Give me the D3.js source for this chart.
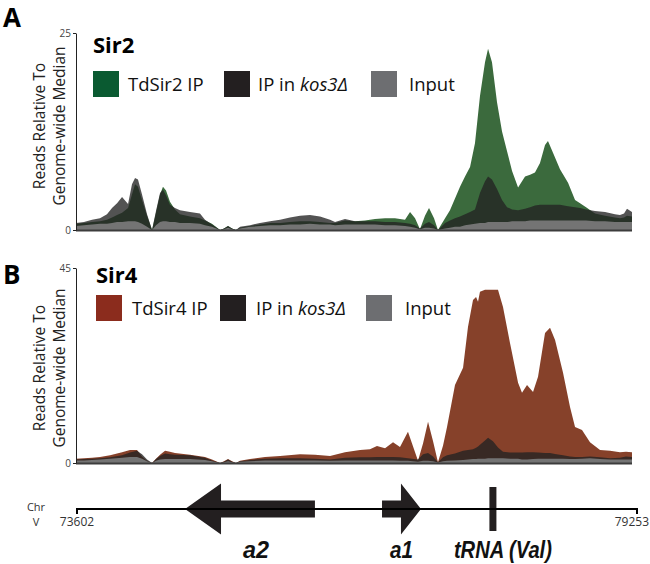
<!DOCTYPE html>
<html><head><meta charset="utf-8">
<script src="https://cdn.jsdelivr.net/npm/d3@7"></script>
<style>body{margin:0;background:#fff}svg{display:block}</style>
</head><body>
<svg id="c" width="650" height="564"></svg>
<script>
// ---------- DATA ----------
const regionStart = 73602, regionEnd = 79253;

const sir2Pos = [73602,73683,73765,73846,73917,73968,74019,74070,74131,74171,74202,74232,74273,74324,74375,74415,74456,74486,74517,74557,74608,74659,74761,74862,74913,74984,75066,75106,75147,75188,75228,75269,75371,75472,75574,75676,75777,75879,75980,76082,76184,76235,76336,76438,76539,76641,76743,76844,76946,76997,77048,77098,77149,77190,77241,77281,77353,77403,77454,77505,77556,77607,77657,77708,77759,77790,77830,77881,77932,77983,78034,78095,78166,78217,78267,78318,78369,78399,78450,78521,78603,78674,78725,78786,78877,78979,79080,79131,79172,79202,79253];
const sir2IP    = [0.8,0.9,1.0,1.1,1.3,1.6,1.9,2.2,2.8,4.5,5.8,5.5,3.8,1.8,0.0,2.2,4.5,5.5,5.0,3.6,2.6,2.0,1.7,1.5,1.2,0.8,0.0,0.2,0.5,0.2,0.0,0.3,0.5,0.7,0.9,0.9,1.0,1.1,1.1,1.0,0.9,0.9,1.2,1.1,1.2,1.4,1.5,1.5,1.3,2.3,1.5,0.1,1.8,2.8,1.5,0.0,1.5,2.5,4.0,5.5,6.8,8.0,11.0,17.0,21.3,23.0,21.3,16.2,12.5,10.0,7.5,5.4,6.8,7.0,7.3,8.5,10.8,11.3,9.8,7.7,6.0,3.8,3.4,2.9,2.1,1.8,1.6,1.5,1.6,1.8,1.7];
const sir2Kos   = [0.9,1.0,1.3,1.5,2.0,2.8,3.4,4.2,3.3,5.8,6.6,6.4,4.5,2.0,0.0,2.4,4.7,5.1,4.4,3.2,2.8,2.5,2.3,2.1,1.3,0.7,0.0,0.2,0.5,0.2,0.0,0.4,0.6,0.9,1.1,1.3,1.6,1.8,1.9,1.7,1.3,1.0,1.4,1.1,1.1,1.1,1.0,1.0,0.9,0.8,0.6,0.2,0.8,1.0,0.6,0.0,0.9,1.2,1.5,1.7,2.0,2.3,2.6,4.7,6.2,6.8,6.4,5.2,3.8,2.9,2.6,2.5,2.7,2.9,3.1,3.2,3.2,3.2,3.2,3.2,3.0,2.9,2.8,2.6,2.4,2.3,2.0,1.9,2.1,2.7,2.3];
const sir2Input = [0.5,0.6,0.7,0.8,0.8,0.9,1.0,1.0,1.1,1.1,1.1,1.0,0.8,0.4,0.0,0.6,1.0,1.1,1.1,1.0,1.0,0.9,0.9,0.8,0.6,0.4,0.0,0.1,0.3,0.1,0.0,0.2,0.4,0.5,0.6,0.6,0.7,0.7,0.8,0.7,0.7,0.6,0.7,0.7,0.7,0.7,0.6,0.6,0.5,0.4,0.3,0.1,0.3,0.3,0.2,0.0,0.2,0.3,0.4,0.4,0.6,0.7,0.8,0.9,0.9,1.0,1.0,1.0,1.0,1.0,1.1,1.1,1.1,1.2,1.2,1.2,1.2,1.2,1.2,1.2,1.2,1.2,1.2,1.2,1.1,1.1,1.0,1.0,1.0,1.0,1.0];

const sir4Pos = [73602,73683,73765,73846,73948,74070,74151,74222,74273,74324,74375,74415,74456,74507,74557,74608,74761,74913,74984,75066,75106,75147,75188,75228,75269,75371,75523,75676,75879,76031,76184,76336,76489,76590,76661,76743,76824,76895,76976,77078,77129,77180,77231,77281,77332,77373,77454,77536,77586,77637,77668,77688,77708,77759,77790,77840,77891,77942,78013,78095,78135,78186,78247,78298,78369,78420,78471,78552,78623,78674,78745,78826,78928,79030,79131,79192,79253];
const sir4IP    = [1.0,1.1,1.2,1.4,1.8,2.5,3.0,3.0,1.5,0.5,0.0,1.0,1.9,2.8,2.6,2.3,1.9,1.4,0.8,0.0,0.4,0.9,0.4,0.0,0.5,0.9,1.4,1.6,2.0,1.9,1.6,2.5,3.0,3.2,3.9,3.4,4.8,3.7,7.2,0.5,4.5,9.5,5.0,0.2,4.0,8.3,18.0,22.0,31.4,37.6,38.3,37.2,39.5,40.0,40.0,40.0,40.0,36.0,27.7,18.5,16.2,18.0,16.4,19.9,30.0,31.2,28.4,20.8,12.9,8.3,7.6,4.8,3.0,2.8,2.5,2.6,2.5];
const sir4Kos   = [0.8,0.9,1.0,1.1,1.3,1.8,2.4,2.8,2.0,0.8,0.0,0.9,1.6,2.2,2.0,1.9,1.8,1.2,0.6,0.0,0.3,0.8,0.3,0.0,0.4,0.7,1.0,1.1,1.1,1.0,0.8,1.2,1.3,1.3,1.4,1.4,1.4,1.3,1.1,0.8,2.0,2.3,1.5,0.2,1.3,1.8,2.2,2.8,3.0,3.2,3.5,3.8,4.2,5.2,5.8,5.0,3.6,2.6,2.4,2.4,2.4,2.5,2.5,2.4,2.3,2.3,2.1,1.8,1.5,1.4,1.4,1.5,1.3,1.1,1.2,1.5,1.4];
const sir4Input = [0.6,0.6,0.7,0.8,1.0,1.2,1.4,1.4,1.0,0.4,0.0,0.5,0.8,0.9,0.9,0.9,0.9,0.7,0.4,0.0,0.2,0.4,0.2,0.0,0.3,0.4,0.6,0.6,0.6,0.6,0.5,0.6,0.6,0.6,0.6,0.6,0.6,0.5,0.5,0.3,0.5,0.5,0.4,0.1,0.4,0.5,0.6,0.7,0.8,0.9,0.9,1.0,1.0,1.0,1.1,1.1,1.1,1.1,1.0,1.0,0.8,0.8,0.9,1.0,1.0,1.0,1.0,1.0,0.9,0.9,1.0,1.1,0.9,0.8,0.8,0.8,0.8];

const sir2Ticks = [0, 25];
const sir4Ticks = [0, 45];
const sir2Legend = ["TdSir2 IP", "IP in kos3Δ", "Input"];
const sir4Legend = ["TdSir4 IP", "IP in kos3Δ", "Input"];
const yTitle = ["Reads Relative To", "Genome-wide Median"];
const chromLabel = ["Chr", "V"];
const genes = [
  {name: "a2", start: 74692, end: 76003, strand: -1},
  {name: "a1", start: 76680, end: 77073, strand: 1}
];
const trnas = [{name: "tRNA (Val)", pos: 77799}];

// ---------- STYLE / LAYOUT ----------
const FONT = "'Open Sans', 'Noto Sans', sans-serif";
const svg = d3.select("#c");

const panels = [
  {letter: "A", title: "Sir2", pos: sir2Pos, ip: sir2IP, kos: sir2Kos, input: sir2Input, ticks: sir2Ticks,
   legend: sir2Legend, top: 33, bottom: 230, ipColor: "#3b6a3d", swatchColor: "#0a5a31",
   letterY: 27, titleX: 93, titleY: 53, legY: 71, swX: [93, 224, 371], txX: [128, 258, 409], yTitleC: 126},
  {letter: "B", title: "Sir4", pos: sir4Pos, ip: sir4IP, kos: sir4Kos, input: sir4Input, ticks: sir4Ticks,
   legend: sir4Legend, top: 268, bottom: 463, ipColor: "#86412a", swatchColor: "#8b2c1d",
   letterY: 284, titleX: 96, titleY: 283, legY: 295, swX: [96, 220, 366], txX: [132, 256, 405], yTitleC: 368}
];
const plotL = 76, plotR = 632;

panels.forEach(p => {
  const x = d3.scaleLinear().domain([regionStart, regionEnd]).range([plotL, plotR]);
  const y = d3.scaleLinear().domain([0, p.ticks[1]]).range([p.bottom, p.top]);
  const g = svg.append("g");
  const area = vals => d3.area()
      .x((d, i) => x(p.pos[i])).y0(y(0)).y1((d) => y(d))
      .curve(d3.curveLinear)(vals);

  g.append("path").attr("d", area(p.ip)).attr("fill", p.ipColor);
  g.append("path").attr("d", area(p.kos)).attr("fill", "#232323").attr("fill-opacity", 0.78);
  g.append("path").attr("d", area(p.input)).attr("fill", "#747474");

  // baseline
  g.append("line").attr("x1", plotL).attr("x2", plotR).attr("y1", y(0) + 0.5).attr("y2", y(0) + 0.5)
    .attr("stroke", "#3c3c3c").attr("stroke-width", 2);

  // y axis
  const ax = g.append("g").attr("transform", `translate(${plotL},0)`)
    .call(d3.axisLeft(y).tickValues(p.ticks).tickSize(3).tickSizeOuter(0).tickPadding(2));
  ax.select(".domain").attr("stroke", "#222").attr("stroke-width", 1);
  ax.selectAll(".tick line").attr("stroke", "#222");
  ax.selectAll(".tick text").attr("font-family", FONT).attr("font-size", 10).attr("fill", "#444");

  // y title
  yTitle.forEach((t, i) => {
    g.append("text").attr("transform", `translate(${45 + i * 20},${p.yTitleC}) rotate(-90)`)
      .attr("text-anchor", "middle").attr("font-family", FONT).attr("font-size", 15.5).attr("fill", "#222")
      .text(t);
  });

  // panel letter & title
  g.append("text").attr("x", 3).attr("y", p.letterY).attr("font-family", FONT).attr("font-weight", 700)
    .attr("font-size", 26).attr("fill", "#000").text(p.letter);
  g.append("text").attr("x", p.titleX).attr("y", p.titleY).attr("font-family", FONT).attr("font-weight", 700)
    .attr("font-size", 22).attr("fill", "#000").text(p.title);

  // legend
  const swCols = [p.swatchColor, "#231f20", "#6d6e71"];
  p.legend.forEach((t, i) => {
    g.append("rect").attr("x", p.swX[i]).attr("y", p.legY).attr("width", 26).attr("height", 26).attr("fill", swCols[i]);
    const tx = g.append("text").attr("x", p.txX[i]).attr("y", p.legY + 20).attr("font-family", FONT)
      .attr("font-size", 18.5).attr("fill", "#111");
    const m = t.match(/^(IP in )(.*)$/);
    if (m) {
      tx.append("tspan").text(m[1]);
      tx.append("tspan").attr("font-style", "italic").text(m[2]);
    } else tx.text(t);
  });
});

// ---------- GENOME TRACK ----------
const xT = d3.scaleLinear().domain([regionStart, regionEnd]).range([77, 637]);
const trackY = 509;
const tg = svg.append("g");
const bodyH = 17, headH = 51;
const headLen = {a2: 36, a1: 20};

genes.forEach(gn => {
  const x0 = xT(gn.start), x1 = xT(gn.end), hl = headLen[gn.name];
  let pts;
  if (gn.strand < 0) {
    pts = [[x0, trackY], [x0 + hl, trackY - headH / 2], [x0 + hl, trackY - bodyH / 2], [x1, trackY - bodyH / 2],
           [x1, trackY + bodyH / 2], [x0 + hl, trackY + bodyH / 2], [x0 + hl, trackY + headH / 2]];
  } else {
    pts = [[x1, trackY], [x1 - hl, trackY - headH / 2], [x1 - hl, trackY - bodyH / 2], [x0, trackY - bodyH / 2],
           [x0, trackY + bodyH / 2], [x1 - hl, trackY + bodyH / 2], [x1 - hl, trackY + headH / 2]];
  }
  tg.append("path").attr("d", d3.line()(pts) + "Z").attr("fill", "#231f20");
});
trnas.forEach(t => {
  tg.append("rect").attr("x", xT(t.pos) - 3.5).attr("y", 487).attr("width", 7).attr("height", 44).attr("fill", "#231f20");
});

tg.append("line").attr("x1", xT(regionStart)).attr("x2", xT(regionEnd)).attr("y1", trackY).attr("y2", trackY)
  .attr("stroke", "#000").attr("stroke-width", 2);
[regionStart, regionEnd].forEach(v => {
  tg.append("line").attr("x1", xT(v)).attr("x2", xT(v)).attr("y1", trackY - 1).attr("y2", trackY + 5)
    .attr("stroke", "#000").attr("stroke-width", 2);
});
tg.append("text").attr("x", xT(regionStart)).attr("y", 526).attr("text-anchor", "middle")
  .attr("font-family", FONT).attr("font-size", 12).attr("fill", "#333").text(regionStart);
tg.append("text").attr("x", 649).attr("y", 526).attr("text-anchor", "end")
  .attr("font-family", FONT).attr("font-size", 12).attr("fill", "#333").text(regionEnd);
chromLabel.forEach((t, i) => {
  tg.append("text").attr("x", 36).attr("y", 511 + i * 15).attr("text-anchor", "middle")
    .attr("font-family", FONT).attr("font-size", 11).attr("fill", "#333").text(t);
});

const labFont = "'Liberation Sans', Arial, sans-serif";
const labelDx = {"a2": 6, "a1": 0, "tRNA (Val)": 10};
const labelW = {"a2": 26, "a1": 23, "tRNA (Val)": 98};
function geneLabel(name, cx) {
  tg.append("text").attr("x", cx - labelW[name] / 2).attr("y", 558)
    .attr("font-family", labFont).attr("font-weight", 700).attr("font-style", "italic")
    .attr("font-size", 23).attr("fill", "#111")
    .attr("textLength", labelW[name]).attr("lengthAdjust", "spacingAndGlyphs").text(name);
}
genes.forEach(gn => geneLabel(gn.name, xT((gn.start + gn.end) / 2) + labelDx[gn.name]));
trnas.forEach(t => geneLabel(t.name, xT(t.pos) + labelDx[t.name]));
</script>
</body></html>
